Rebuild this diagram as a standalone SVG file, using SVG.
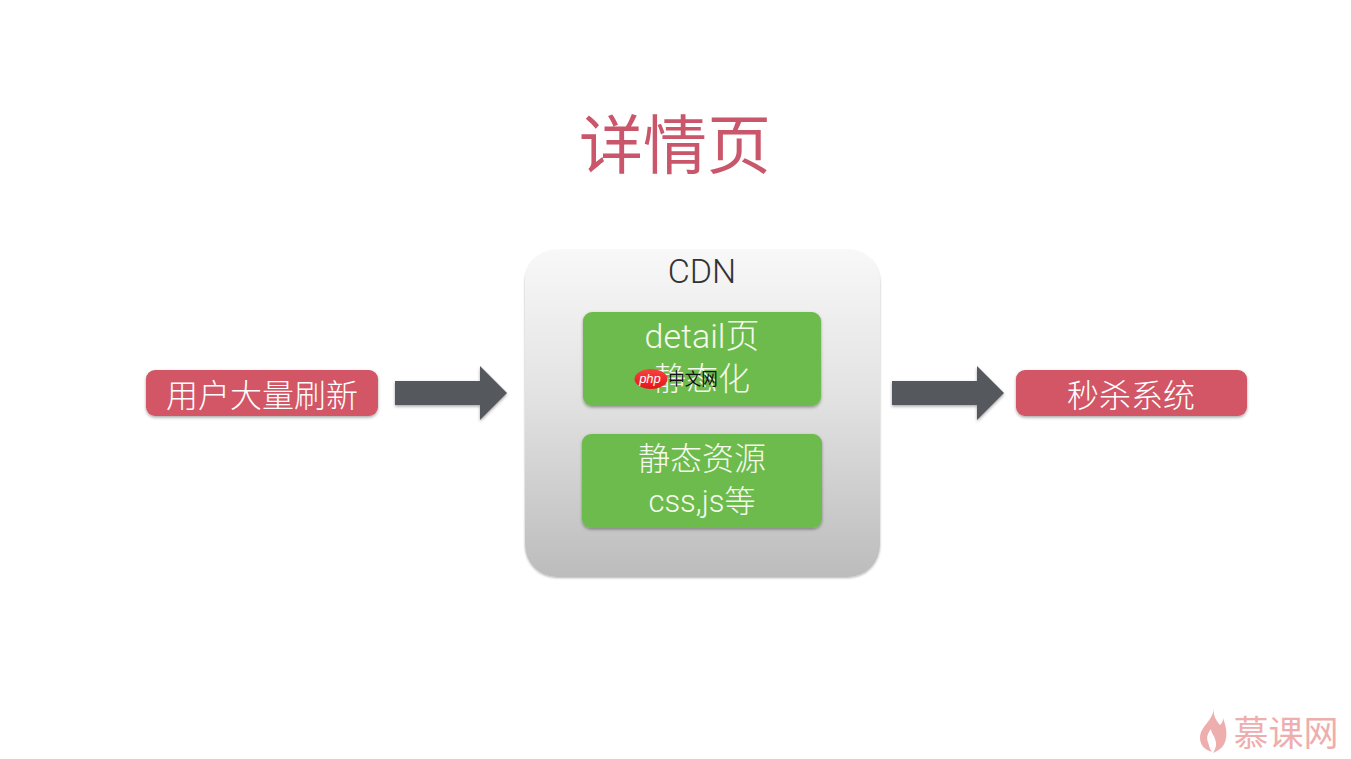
<svg xmlns="http://www.w3.org/2000/svg" width="1351" height="759" viewBox="0 0 1351 759">
<style>
text{font-family:"Roboto","Noto Sans CJK SC",sans-serif;font-weight:300;text-anchor:middle}
.w{fill:#f4faec;font-size:32px}
.r{fill:#fff;font-size:32px}
.red{fill:#d35666;filter:url(#s)}
.green{fill:#6ebb4e;filter:url(#s)}
.arrow{fill:#55595c;filter:url(#s)}
</style>
<defs>
<linearGradient id="g" x1="0" y1="0" x2="0" y2="1"><stop offset="0" stop-color="#f8f8f8"/><stop offset=".45" stop-color="#e2e2e2"/><stop offset="1" stop-color="#bcbcbc"/></linearGradient>
<linearGradient id="ph" x1="0" y1="0" x2="0" y2="1"><stop offset="0" stop-color="#f8423c"/><stop offset="1" stop-color="#e5141c"/></linearGradient>
<filter id="s" x="-10%" y="-20%" width="120%" height="150%"><feDropShadow dx="0" dy="1.500" stdDeviation="1.500" flood-color="#000" flood-opacity=".35"/></filter>
<filter id="s2" x="-5%" y="-5%" width="110%" height="110%"><feDropShadow dx="0" dy="1" stdDeviation="1" flood-color="#000" flood-opacity=".3"/></filter>
</defs>
<rect width="1351" height="759" fill="#fff"/>
<text id="title" x="675" y="168" style="font-size:64px;fill:#c9566a;font-weight:400">详情页</text>
<g id="user"><rect class="red" x="146" y="370" width="232" height="46" rx="9"/><text class="r" x="262" y="407">用户大量刷新</text></g>
<g id="cdn"><rect x="525" y="250" width="355" height="327" rx="32" fill="url(#g)" filter="url(#s2)"/><text x="702" y="283" style="font-size:34px;fill:#333">CDN</text></g>
<g id="detail"><rect class="green" x="583" y="312" width="238" height="94" rx="9"/><text class="w" x="702" y="348" style="font-size:34px">detail页</text><text class="w" x="702" y="390">静态化</text></g>
<g id="static"><rect class="green" x="582" y="434" width="240" height="94" rx="9"/><text class="w" x="702" y="470">静态资源</text><text class="w" x="702" y="512" style="font-size:31px">css,js等</text></g>
<g id="seckill"><rect class="red" x="1016" y="370" width="231" height="46" rx="9"/><text class="r" x="1131" y="407">秒杀系统</text></g>
<g id="connectors">
<polygon class="arrow" points="395,381 480,381 480,366 507,393 480,420 480,405 395,405"/>
<polygon class="arrow" points="892,381 977,381 977,366 1004,393 977,420 977,405 892,405"/>
</g>
<g id="php-mark"><ellipse cx="651" cy="379" rx="16.500" ry="10" fill="url(#ph)"/><text x="650" y="383" style="font-family:'Liberation Sans',sans-serif;font-size:13px;fill:#fff;font-style:italic;font-weight:400">php</text><text x="693" y="385" style="font-size:16.500px;fill:#111;font-weight:400">中文网</text></g>
<g id="watermark"><path d="M1214 709C1213 716 1216 720 1220 725C1223 722 1223 720 1223 718C1226 726 1227 732 1226 738C1225 746 1220 750 1213 753C1216 748 1217 744 1215 739C1214 735 1211 733 1211 729C1208 733 1206 737 1208 742C1209 746 1210 749 1212 752C1205 750 1200 745 1200 738C1200 731 1204 727 1207 723C1210 719 1213 715 1214 709Z" fill="#eeaeae"/><text x="1286" y="746" style="font-size:35px;fill:#eeaeae;font-weight:400">慕课网</text></g>
</svg>
